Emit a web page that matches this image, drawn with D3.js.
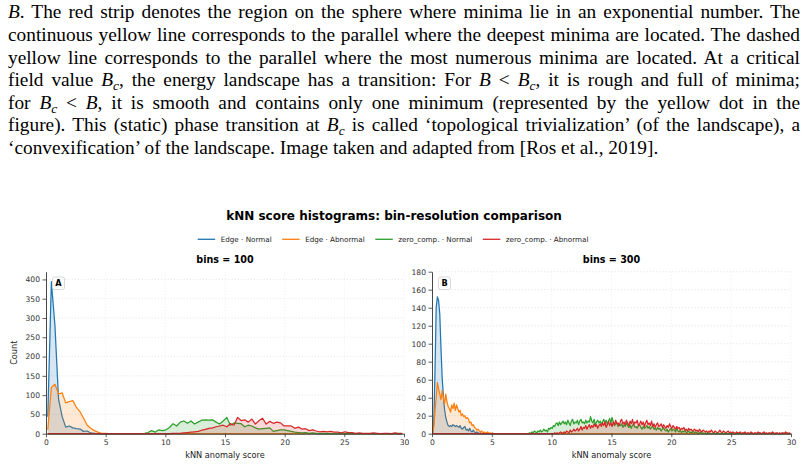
<!DOCTYPE html>
<html><head><meta charset="utf-8">
<script src="https://cdn.jsdelivr.net/npm/d3@7/dist/d3.min.js"></script>
<style>body{margin:0;background:#fff}svg{display:block}</style>
</head><body>
<svg id="c" width="807" height="466"></svg>
<script>
// ---------- text ----------
const paragraphLines = [
  "$B$. The red strip denotes the region on the sphere where minima lie in an exponential number. The",
  "continuous yellow line corresponds to the parallel where the deepest minima are located. The dashed",
  "yellow line corresponds to the parallel where the most numerous minima are located. At a critical",
  "field value $B_c$, the energy landscape has a transition: For $B$ < $B_c$, it is rough and full of minima;",
  "for $B_c$ < $B$, it is smooth and contains only one minimum (represented by the yellow dot in the",
  "figure). This (static) phase transition at $B_c$ is called \u2018topological trivialization\u2019 (of the landscape), a",
  "\u2018convexification\u2019 of the landscape. Image taken and adapted from [Ros et al., 2019]."
];
const chartTitle = "kNN score histograms: bin-resolution comparison";
const legendLabels = ["Edge \u00b7 Normal", "Edge \u00b7 Abnormal", "zero_comp. \u00b7 Normal", "zero_comp. \u00b7 Abnormal"];
const seriesColors = ["#1f77b4", "#ff7f0e", "#2ca02c", "#d62728"];
const panelLetters = ["A", "B"];
const panelTitles = ["bins = 100", "bins = 300"];
const binCounts = [100, 300];
const xDomain = [0, 30];
const xTicks = [0, 5, 10, 15, 20, 25, 30];
const yTicksA = [0, 50, 100, 150, 200, 250, 300, 350, 400];
const yTicksB = [0, 20, 40, 60, 80, 100, 120, 140, 160, 180];
const yMaxA = 420, yMaxB = 180;
const xLabel = "kNN anomaly score", yLabel = "Count";

// ---------- histogram counts (bins=100, width 0.3) : start bin + counts ----------
const a_edgeNormal_start = 0;
const a_edgeNormal = [44,394,280,90,45,17,20,15,13,12,6,7,2,1];
const a_edgeAbn_start = 0;
const a_edgeAbn = [10,120,128,103,106,80,83,86,68,57,40,22,14,8,4,1,1];
const a_zeroNormal_start = 26;
const a_zeroNormal = [0,1,3,8,4,10,8,10,16,26, 20,30,33,27,33,25,30,35,36,35,
                      36,30,25,33,42,22,28,27,26,18, 22,20,15,12,13,14,15,6,8,10,
                      10,8,6,4,3,2,3,1,2,1, 0,1,0,0,0,0,0,0,0,0,
                      0,0,0,0,0,0,0,0,0,0, 0,0,1,0];
const a_zeroAbn_start = 33;
const a_zeroAbn = [0,0,1,1,1,2,3,4,5,6, 9,11,14,15,18,20,22,18,26,22,
                   42,34,36,30,38,25,34,40,25,32, 27,30,28,20,20,20,14,17,12,13,
                   8,10,7,5,6,5,6,4,4,2, 5,3,3,1,2,1,1,1,2,1, 0,1,1,0,2,0,1];

// ---------- histogram counts (bins=300, width 0.1) ----------
const b_edgeNormal_start = 0;
const b_edgeNormal = [0,12,70,140,152,148,133,95,62,42, 27,18,13,9,8,9,8,10,9,8,
                      9,8,7,9,6,5,7,8,4,5, 3,6,3,2,4,2,1,2,1,0,1];
const b_edgeAbn_start = 0;
const b_edgeAbn = [0,8,25,40,57,50,44,38,48,40, 33,44,36,30,28,24,32,28,34,26,
                   32,28,24,26,20,22,19,20,17,18, 16,12,13,9,10,7,6,4,5,3,
                   2,3,1,2,1,1,2,0,1,0,1];
const b_zeroNormal_start = 80;
const b_zeroNormal = [
  0,1,0,2,1,3,2,1,3,2, 4,2,3,5,3,4,2,6,5,7,
  6,9,8,11,12,9,13,10,12,14, 11,13,10,15,12,9,14,16,11,13,
  12,15,10,14,16,12,13,11,15,12, 14,13,19,14,12,16,10,13,15,12,
  14,11,13,16,12,15,10,14,17,12, 18,13,9,11,12,8,10,9,11,7,
  10,8,12,9,7,10,6,9,11,7, 8,6,9,10,7,5,8,6,7,9,
  6,8,5,7,9,5,6,4,7,5, 6,3,5,7,4,3,5,2,4,6,
  3,5,4,2,6,3,2,4,1,3, 2,4,1,2,3,1,2,1,3,1,
  2,1,0,1,2,0,1,0,1,0, 0,1,0,0,0,1,0,0,0,0,
  0,0,0,0,0,0,0,0,0,0, 0,0,0,0,0,0,0,0,0,0,
  0,0,0,0,0,0,0,0,0,0, 0,0,0,0,0,0,0,0,0,0,
  0,0,0,0,0,0,0,0,0,0, 0,0,0,0,0,1,1,0,0,0];
const b_zeroAbn_start = 100;
const b_zeroAbn = [
  0,0,1,0,1,0,1,2,1,0, 2,1,3,2,1,4,2,3,5,3,
  4,6,3,5,8,4,7,6,9,5, 8,10,6,9,7,11,8,10,6,9,
  11,8,12,9,13,7,10,14,9,12, 8,13,10,15,11,12,9,14,16,11,
  13,10,15,12,9,14,11,16,10,13, 12,15,9,11,14,10,13,8,12,15,
  10,12,9,14,8,11,7,10,12,8, 9,11,7,10,8,6,9,7,11,8,
  6,9,7,5,8,6,7,4,6,5, 7,4,5,3,6,4,5,3,4,5,
  3,4,2,5,3,2,4,3,2,3, 1,3,2,4,2,1,3,2,1,2,
  4,2,1,3,2,1,2,3,1,2, 1,2,1,0,2,1,1,2,0,1,
  1,2,0,1,1,0,2,1,0,1, 1,0,2,1,1,0,1,2,0,1,
  0,1,1,0,2,1,0,1,1,0, 1,0,1,1,0,2,1,0,1,0];

// ---------- build ----------
function expand(bins, start, vals) {
  const w = (xDomain[1] - xDomain[0]) / bins;
  const out = [];
  for (let i = 0; i < bins; i++) {
    const j = i - start;
    out.push({x: xDomain[0] + (i + 0.5) * w, v: (j >= 0 && j < vals.length) ? vals[j] : 0});
  }
  return out;
}
const panels = [
  {letter: panelLetters[0], title: panelTitles[0], bins: binCounts[0], yMax: yMaxA, yTicks: yTicksA, x0: 46, x1: 404,
   series: [[a_edgeNormal_start, a_edgeNormal], [a_edgeAbn_start, a_edgeAbn], [a_zeroNormal_start, a_zeroNormal], [a_zeroAbn_start, a_zeroAbn]]},
  {letter: panelLetters[1], title: panelTitles[1], bins: binCounts[1], yMax: yMaxB, yTicks: yTicksB, x0: 432, x1: 791,
   series: [[b_edgeNormal_start, b_edgeNormal], [b_edgeAbn_start, b_edgeAbn], [b_zeroNormal_start, b_zeroNormal], [b_zeroAbn_start, b_zeroAbn]]}
];

const svg = d3.select("#c");
svg.append("rect").attr("width", 807).attr("height", 466).attr("fill", "#fff");

// paragraph (serif, justified)
const lineX = 8, lineW = 792, lastW = 650, baseY0 = 18.5, pitch = 22.6;
const paraOuter = svg.append("g").attr("transform", `translate(${lineX},0)`);
const para = paraOuter.append("g").attr("font-family", "'Liberation Serif', 'Times New Roman', serif")
  .attr("font-size", 18.8).attr("fill", "#000");
const texts = paragraphLines.map((ln, k) => {
  const t = para.append("text").attr("x", 0).attr("y", baseY0 + k * pitch).attr("xml:space", "preserve");
  const parts = ln.split(/(\$[^$]+\$)/).filter(s => s.length);
  let pendingDy = 0;
  parts.forEach(p => {
    if (p.startsWith("$")) {
      const m = p.slice(1, -1).split("_");
      const ts = t.append("tspan").attr("font-style", "italic").text(m[0]);
      if (pendingDy) { ts.attr("dy", pendingDy); pendingDy = 0; }
      if (m[1]) {
        t.append("tspan").attr("font-style", "italic").attr("font-size", 13).attr("dy", 4).text(m[1]);
        pendingDy = -4;
      }
    } else {
      const ts = t.append("tspan").text(p);
      if (pendingDy) { ts.attr("dy", pendingDy); pendingDy = 0; }
    }
  });
  return t;
});
const natLast = texts[texts.length - 1].node().getComputedTextLength();
const sx = lastW / natLast;
para.attr("transform", `scale(${sx},1)`);
texts.forEach((t, k) => {
  if (k === texts.length - 1) return;
  const target = lineW / sx;
  const nat = t.node().getComputedTextLength();
  const spaces = (paragraphLines[k].match(/ /g) || []).length;
  t.style("word-spacing", ((target - nat) / spaces) + "px");
  const after = t.node().getComputedTextLength();
  if (Math.abs(after - target) > 1) t.attr("textLength", target).attr("lengthAdjust", "spacing");
});

const font = "'DejaVu Sans', sans-serif";
// suptitle
svg.append("text").attr("x", 394).attr("y", 220).attr("text-anchor", "middle")
  .attr("font-family", font).attr("font-weight", "bold").attr("font-size", 12).attr("fill", "#000")
  .text(chartTitle);

// legend
const leg = svg.append("g").attr("font-family", font).attr("font-size", 7.2).attr("fill", "#222");
let tx0 = 220.7;
legendLabels.forEach((lab, i) => {
  leg.append("line").attr("x1", tx0 - 23).attr("x2", tx0 - 5.5).attr("y1", 239.3).attr("y2", 239.3)
    .attr("stroke", seriesColors[i]).attr("stroke-width", 1.3);
  const tx = leg.append("text").attr("x", tx0).attr("y", 241.8).text(lab);
  tx0 = tx0 + tx.node().getComputedTextLength() + 33.5;
});

const yTop = 271.7, yBot = 433.7;
panels.forEach((P, pi) => {
  const x = d3.scaleLinear().domain(xDomain).range([P.x0, P.x1]);
  const y = d3.scaleLinear().domain([0, P.yMax]).range([yBot, yTop]);
  const g = svg.append("g");
  // grid
  g.append("g").selectAll("line").data(P.yTicks.filter(d => d > 0)).join("line")
    .attr("x1", P.x0).attr("x2", P.x1).attr("y1", d => y(d)).attr("y2", d => y(d))
    .attr("stroke", "#d9d9d9").attr("stroke-width", 0.6).attr("stroke-dasharray", "1.2,2");
  g.append("g").selectAll("line").data(xTicks.filter(d => d > 0)).join("line")
    .attr("x1", d => x(d)).attr("x2", d => x(d)).attr("y1", yTop).attr("y2", yBot)
    .attr("stroke", "#e6e6e6").attr("stroke-width", 0.6).attr("stroke-dasharray", "1.2,2");
  // series
  P.series.forEach(([st, vals], si) => {
    const data = expand(P.bins, st, vals);
    const area = d3.area().x(d => x(d.x)).y0(y(0)).y1(d => y(d.v));
    const line = d3.line().x(d => x(d.x)).y(d => y(d.v));
    g.append("path").attr("d", area(data)).attr("fill", seriesColors[si]).attr("fill-opacity", 0.18);
    g.append("path").attr("d", line(data)).attr("fill", "none").attr("stroke", seriesColors[si])
      .attr("stroke-width", 1.25).attr("stroke-linejoin", "round");
  });
  // axes
  const ax = g.append("g").attr("transform", `translate(0,${yBot})`)
    .call(d3.axisBottom(x).tickValues(xTicks).tickSize(3.5).tickSizeOuter(0).tickPadding(2.5));
  const ay = g.append("g").attr("transform", `translate(${P.x0},0)`)
    .call(d3.axisLeft(y).tickValues(P.yTicks).tickSize(3.5).tickSizeOuter(0).tickPadding(2.5));
  [ax, ay].forEach(a => {
    a.attr("font-family", font).attr("font-size", 7.6);
    a.select(".domain").attr("stroke", "#333").attr("stroke-width", 0.9);
    a.selectAll(".tick line").attr("stroke", "#333").attr("stroke-width", 0.8);
    a.selectAll(".tick text").attr("fill", "#333");
  });
  // title
  g.append("text").attr("x", (P.x0 + P.x1) / 2).attr("y", 263).attr("text-anchor", "middle")
    .attr("font-family", font).attr("font-weight", "bold").attr("font-size", 9.6).attr("fill", "#000").text(P.title);
  // x label
  g.append("text").attr("x", (P.x0 + P.x1) / 2).attr("y", 458).attr("text-anchor", "middle")
    .attr("font-family", font).attr("font-size", 8.2).attr("fill", "#222").text(xLabel);
  // letter box
  const bx = P.x0 + 6.5, by = 277;
  g.append("rect").attr("x", bx).attr("y", by).attr("width", 12).attr("height", 12.5).attr("rx", 2)
    .attr("fill", "#fff").attr("stroke", "#cfcfcf").attr("stroke-width", 0.8);
  g.append("text").attr("x", bx + 6).attr("y", by + 9.3).attr("text-anchor", "middle")
    .attr("font-family", font).attr("font-weight", "bold").attr("font-size", 8.2).attr("fill", "#000").text(P.letter);
  if (pi === 0) {
    g.append("text").attr("transform", `translate(17,${(yTop + yBot) / 2}) rotate(-90)`).attr("text-anchor", "middle")
      .attr("font-family", font).attr("font-size", 8.2).attr("fill", "#222").text(yLabel);
  }
});
</script>
</body></html>
